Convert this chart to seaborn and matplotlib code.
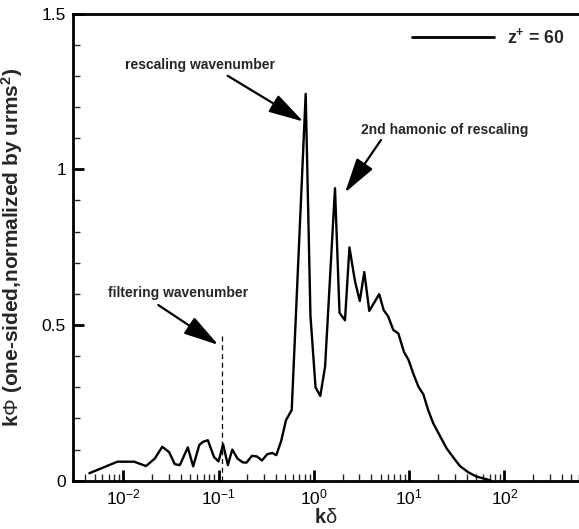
import numpy as np
import pandas as pd
import matplotlib
matplotlib.use("Agg")
import matplotlib.pyplot as plt
from matplotlib.ticker import LogLocator, MultipleLocator, FixedLocator, FixedFormatter
import seaborn as sns

# ---- data ----
k_delta = [0.00440, 0.00867, 0.0130, 0.0173, 0.0214, 0.0256, 0.0302, 0.0347, 0.0392,
           0.0475, 0.0541, 0.0627, 0.0689, 0.0771, 0.0895, 0.0998, 0.1115, 0.125,
           0.139, 0.158, 0.179, 0.196, 0.224, 0.252, 0.285, 0.324, 0.366, 0.403,
           0.454, 0.509, 0.585, 0.820, 0.92, 1.04, 1.167, 1.31, 1.665, 1.857,
           2.12, 2.36, 2.70, 3.03, 3.38, 3.81, 4.85, 5.39, 6.03, 6.81, 7.69,
           8.82, 9.84, 11.0, 12.5, 14.1, 15.8, 17.9, 21.0, 24.7, 29.0, 34.1,
           41.7, 51.0, 65.0, 72.0]
k_phi = [0.024, 0.061, 0.061, 0.047, 0.071, 0.109, 0.092, 0.053, 0.050,
         0.107, 0.046, 0.115, 0.125, 0.130, 0.076, 0.062, 0.117, 0.050,
         0.100, 0.071, 0.059, 0.058, 0.080, 0.078, 0.065, 0.085, 0.089, 0.082,
         0.128, 0.194, 0.227, 1.242, 0.53, 0.30, 0.272, 0.366, 0.939, 0.539,
         0.515, 0.749, 0.640, 0.577, 0.670, 0.545, 0.599, 0.548, 0.527, 0.484, 0.473,
         0.413, 0.388, 0.345, 0.302, 0.277, 0.227, 0.184, 0.144, 0.104, 0.075, 0.047,
         0.027, 0.013, 0.0045, 0.0]
series_label = r"z$^{\mathbf{+}}$ = 60"

filter_k = 0.1086
filter_top = 0.465

y_ticks = [0, 0.5, 1, 1.5]
y_tick_labels = ["0", "0.5", "1", "1.5"]

df = pd.DataFrame({"k": k_delta, "phi": k_phi, "series": series_label})

# ---- style ----
sns.set_style("ticks")
plt.rcParams["font.family"] = ["Liberation Sans", "DejaVu Sans"]
plt.rcParams["mathtext.fontset"] = "custom"
plt.rcParams["mathtext.rm"] = "Liberation Sans"
plt.rcParams["mathtext.it"] = "Liberation Sans:italic"
plt.rcParams["mathtext.bf"] = "Liberation Sans:bold"

fig = plt.figure(figsize=(5.79, 5.29), dpi=100)
W, H = 579, 529
ax_l, ax_r, ax_t, ax_b = 73, 579, 13.5, 480.7
ax = fig.add_axes([ax_l / W, 1 - ax_b / H, (ax_r - ax_l) / W, (ax_b - ax_t) / H])

sns.lineplot(data=df, x="k", y="phi", hue="series", palette=["black"],
             sort=False, estimator=None, linewidth=1.7, ax=ax, legend=True)

ax.set_xscale("log")
ax.set_xlim(10 ** -2.528, 10 ** 2.782)
ax.set_ylim(0, 1.5)

# dashed filter line
ax.vlines(filter_k, 0, filter_top, colors="black", linestyles=(0, (4, 3)), linewidth=0.9)

# spines
for s in ["left", "bottom", "top"]:
    ax.spines[s].set_linewidth(2.0)
    ax.spines[s].set_color("black")
ax.spines["right"].set_visible(False)

# ticks
ax.xaxis.set_major_locator(LogLocator(base=10, numticks=20))
ax.xaxis.set_minor_locator(LogLocator(base=10, subs=np.arange(2, 10), numticks=100))
ax.yaxis.set_major_locator(FixedLocator(y_ticks))
ax.yaxis.set_major_formatter(FixedFormatter(y_tick_labels))
ax.yaxis.set_minor_locator(MultipleLocator(0.1))
ax.tick_params(which="major", direction="in", length=8, width=2.0, labelsize=12.5,
               pad=5, top=False, right=False, colors="black")
ax.tick_params(which="minor", direction="in", length=5, width=1.0, top=False, right=False)

# labels
ax.set_xlabel(r"$\mathbf{k}\mathrm{\delta}$", fontsize=14.5, labelpad=0)
ax.set_ylabel(r"k$\Phi$ (one-sided,normalized by urms$^{\mathbf{2}}$)",
              fontsize=15, fontweight="bold", labelpad=4)
ax.yaxis.set_label_coords((25 - ax_l) / (ax_r - ax_l), 0.5)

# legend
leg = ax.legend(loc="center left", frameon=False,
                handlelength=4.64, handletextpad=0.76, borderpad=0, borderaxespad=0,
                bbox_to_anchor=(411.7 / W, 1 - 37.3 / H), bbox_transform=fig.transFigure,
                prop={"weight": "bold", "size": 12.7})
for line in leg.get_lines():
    line.set_linewidth(2.0)

# annotations
arrow_kw = dict(arrowstyle="-|>,head_length=1.8,head_width=0.5", color="black",
                lw=1.6, shrinkA=0, shrinkB=0, mutation_scale=12)
ax.annotate("", xy=(0.774, 1.153), xytext=(0.1246, 1.300), arrowprops=arrow_kw)
ax.text(0.0638, 1.335, "rescaling wavenumber", ha="center", va="center",
        fontsize=10, fontweight="bold")
ax.annotate("", xy=(2.12, 0.925), xytext=(5.06, 1.094), arrowprops=arrow_kw)
ax.text(23.8, 1.126, "2nd hamonic of rescaling", ha="center", va="center",
        fontsize=10, fontweight="bold")
ax.annotate("", xy=(0.0993, 0.436), xytext=(0.0233, 0.564), arrowprops=arrow_kw)
ax.text(0.0378, 0.602, "filtering wavenumber", ha="center", va="center",
        fontsize=10, fontweight="bold")

fig.savefig("out.png", dpi=100)
